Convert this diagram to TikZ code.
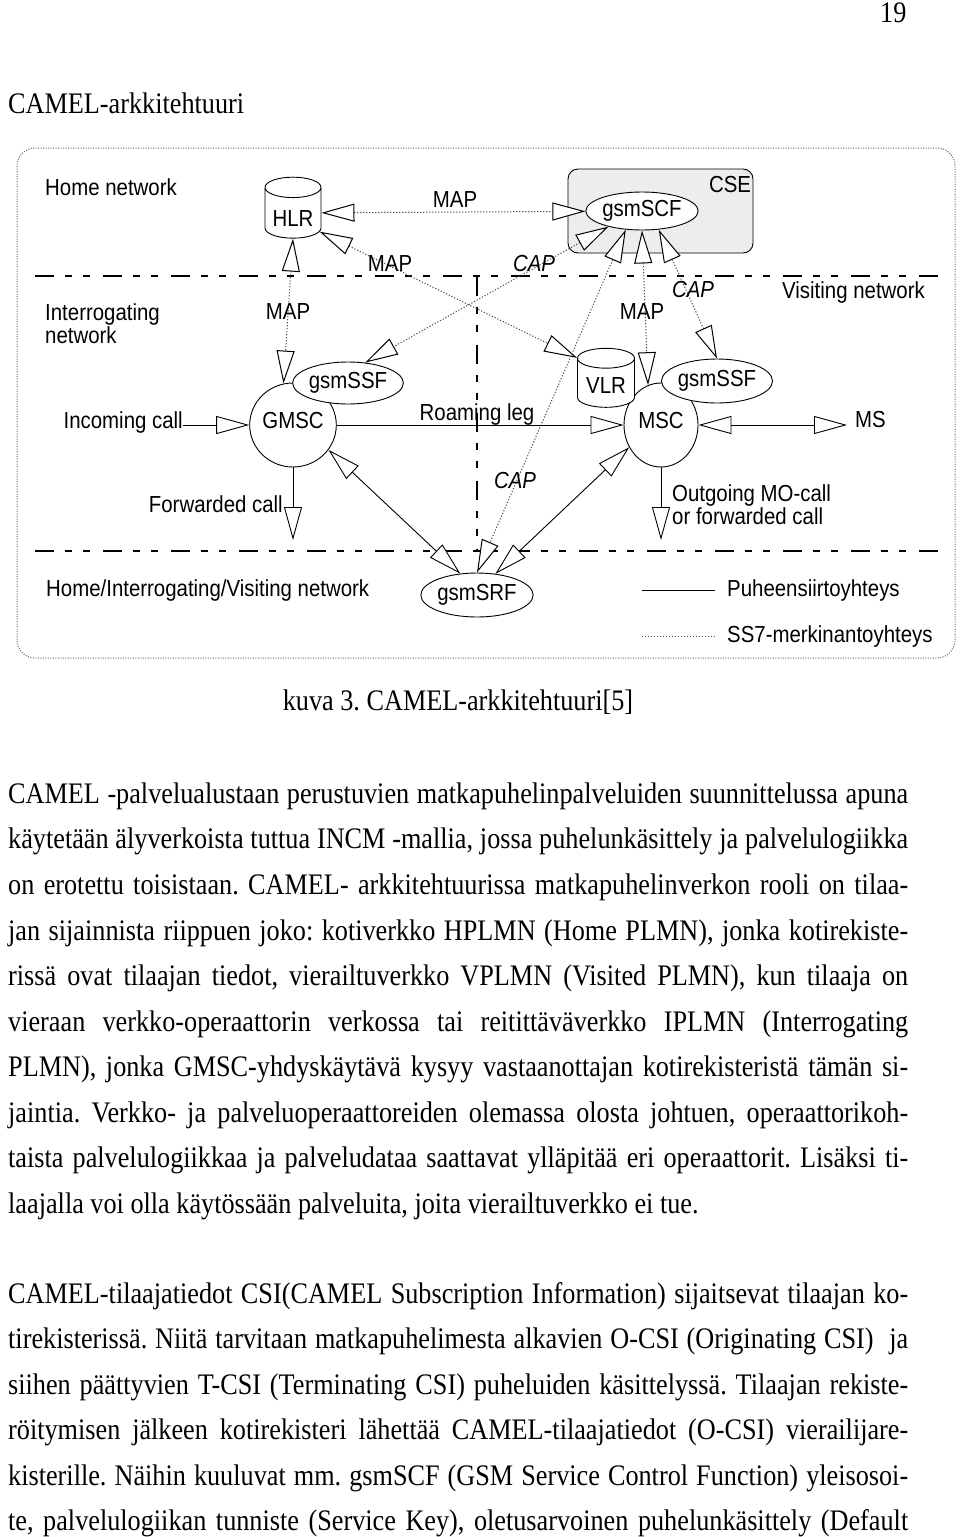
\documentclass[tikz,border=0pt]{standalone}
\usepackage{fontspec}
\setmainfont[FakeStretch=0.88]{Liberation Serif}
\newfontfamily\diagfont[FakeStretch=0.88]{Liberation Sans}
\usepackage{tikz}
\usetikzlibrary{arrows.meta,shapes.geometric,positioning}
\frenchspacing

\tikzset{
  lbl/.style={font=\diagfont\fontsize{23.2}{23}\selectfont, inner sep=0pt},
  capl/.style={font=\diagfont\itshape\fontsize{23.2}{23}\selectfont, inner sep=0pt},
  elem/.style={ellipse, draw, fill=white, line width=0.9pt, inner sep=0pt,
    font=\diagfont\fontsize{23.2}{23}\selectfont},
  reg/.style={cylinder, shape border rotate=90, aspect=0.5, draw, fill=white,
    line width=0.9pt, inner sep=0pt, font=\diagfont\fontsize{23.2}{23}\selectfont},
  csebox/.style={draw, fill=black!7, rounded corners=10pt, line width=0.9pt,
    minimum width=185pt, minimum height=84pt},
  frame/.style={black!60, line width=1pt, dash pattern=on 1pt off 1.5pt, rounded corners=18pt},
  divider/.style={line width=1.1pt, dash pattern=on 19pt off 11pt on 7pt off 11pt on 7pt off 13pt},
  voice/.style={line width=0.9pt},
  ss7/.style={black!70, line width=1pt, dash pattern=on 1.2pt off 1.8pt},
  bodyline/.style={anchor=base west, inner sep=0pt, font=\fontsize{29.8}{34}\selectfont},
  >={Triangle[length=33pt, width=18pt, color=black, fill=white]}
}

\begin{document}
\begin{tikzpicture}[x=1pt, y=-1pt]
  \useasboundingbox (0,0) rectangle (960,1537);

  % page head
  \node[bodyline] (pagenum) at (880,22) {19};
  \node[bodyline] (title) at (8,113) {CAMEL-arkkitehtuuri};

  % figure frame and network borders
  \draw[frame] (17,148) rectangle (955,658);
  \node[csebox] (cse) at (660.5,211) {};
  \node[lbl] (cselbl) at (730,185) {CSE};
  \draw[divider] (35,276) -- (938,276);
  \draw[divider] (35,551) -- (938,551);
  \draw[divider] (477,277) -- (477,551);
  \node[lbl, anchor=west] (home) at (45,187) {Home network};
  \node[lbl, anchor=west, align=left] (interr) at (45,324) {Interrogating\\network};
  \node[lbl, anchor=west] (visit) at (782,292) {Visiting network};
  \node[lbl, anchor=west] (hiv) at (46,590) {Home/Interrogating/Visiting network};

  % network elements
  \node[reg, minimum width=56pt, minimum height=61pt, text height=26pt] (hlr) at (293,213) {HLR};
  \node[elem, minimum width=112pt, minimum height=38pt] (gsmscf) at (642,211) {gsmSCF};
  \node[elem, minimum width=74pt, minimum height=84pt, text depth=10pt] (gmsc) at (293,425) {GMSC};
  \node[elem, minimum width=110pt, minimum height=42pt] (ssfl) at (348,383) {gsmSSF};
  \node[elem, minimum width=74pt, minimum height=84pt, text depth=10pt] (msc) at (661,425) {MSC};
  \node[reg, minimum width=57pt, minimum height=59pt, text height=20pt] (vlr) at (606,383) {VLR};
  \node[elem, minimum width=111pt, minimum height=44pt] (ssfr) at (717,381) {gsmSSF};
  \node[elem, minimum width=110pt, minimum height=44pt] (srf) at (477,595) {gsmSRF};

  % signalling (MAP / CAP)
  \draw[ss7, <->] (hlr) -- (gsmscf);
  \node[lbl] (map1) at (455,200) {MAP};
  \draw[ss7, <->] (hlr.-35) -- (vlr.139);
  \node[lbl] (map2) at (390,264) {MAP};
  \draw[ss7, <->] (hlr.south) -- (gmsc.103);
  \node[lbl] (map3) at (288,312) {MAP};
  \draw[ss7, <->] (gsmscf.205) -- (ssfl.50);
  \node[capl] (cap1) at (534,264) {CAP};
  \draw[ss7, <->] (gsmscf.229) -- (srf.north);
  \node[capl] (cap2) at (515,481) {CAP};
  \draw[ss7, <->] (gsmscf.south) -- (msc.108);
  \node[lbl] (map4) at (642,312) {MAP};
  \draw[ss7, <->] (gsmscf.-48) -- (ssfr.north);
  \node[capl] (cap3) at (693,290) {CAP};

  % speech connections
  \node[lbl, anchor=east] (incoming) at (183,422) {Incoming call};
  \draw[voice, ->] (incoming.east |- gmsc.west) -- (gmsc.west);
  \coordinate (fwdend) at (293,540);
  \draw[voice, ->] (gmsc.south) -- (fwdend);
  \node[lbl, anchor=east] (fwd) at (283,504) {Forwarded call};
  \draw[voice, ->] (gmsc) -- (msc);
  \node[lbl] (roam) at (477,414) {Roaming leg};
  \node[lbl, anchor=west] (ms) at (855,420) {MS};
  \draw[voice, <->] (msc.east) -- ([xshift=-8pt]msc.east -| ms.west);
  \coordinate (outend) at (661,540);
  \draw[voice, ->] (msc.south) -- (outend);
  \node[lbl, anchor=west, align=left] (outgoing) at (672,505) {Outgoing MO-call\\or forwarded call};
  \draw[voice, <->] (gmsc.-35) -- (srf.128);
  \draw[voice, <->] (msc.215) -- (srf.49);

  % legend
  \node[lbl, anchor=west] (legvoice) at (727,590) {Puheensiirtoyhteys};
  \node[lbl, anchor=west] (legss7) at (727,636) {SS7-merkinantoyhteys};
  \draw[voice] ([xshift=-85pt]legvoice.west) -- ([xshift=-12pt]legvoice.west);
  \draw[ss7] ([xshift=-85pt]legss7.west) -- ([xshift=-12pt]legss7.west);

  % caption and body text
  \node[bodyline, anchor=base] (caption) at (458,710) {kuva 3. CAMEL-arkkitehtuuri[5]};
  \node[bodyline] (p1a) at (8,803) {\makebox[900pt][s]{CAMEL -palvelualustaan perustuvien matkapuhelinpalveluiden suunnittelussa apuna}};
  \node[bodyline] (p1b) at (8,848) {\makebox[900pt][s]{käytetään älyverkoista tuttua INCM -mallia, jossa puhelunkäsittely ja palvelulogiikka}};
  \node[bodyline] (p1c) at (8,894) {\makebox[900pt][s]{on erotettu toisistaan. CAMEL- arkkitehtuurissa matkapuhelinverkon rooli on tilaa-}};
  \node[bodyline] (p1d) at (8,940) {\makebox[900pt][s]{jan sijainnista riippuen joko: kotiverkko HPLMN (Home PLMN), jonka kotirekiste-}};
  \node[bodyline] (p1e) at (8,985) {\makebox[900pt][s]{rissä ovat tilaajan tiedot, vierailtuverkko VPLMN (Visited PLMN), kun tilaaja on}};
  \node[bodyline] (p1f) at (8,1031) {\makebox[900pt][s]{vieraan verkko-operaattorin verkossa tai reitittäväverkko IPLMN (Interrogating}};
  \node[bodyline] (p1g) at (8,1076) {\makebox[900pt][s]{PLMN), jonka GMSC-yhdyskäytävä kysyy vastaanottajan kotirekisteristä tämän si-}};
  \node[bodyline] (p1h) at (8,1122) {\makebox[900pt][s]{jaintia. Verkko- ja palveluoperaattoreiden olemassa olosta johtuen, operaattorikoh-}};
  \node[bodyline] (p1i) at (8,1167) {\makebox[900pt][s]{taista palvelulogiikkaa ja palveludataa saattavat ylläpitää eri operaattorit. Lisäksi ti-}};
  \node[bodyline] (p1j) at (8,1213) {laajalla voi olla käytössään palveluita, joita vierailtuverkko ei tue.};
  \node[bodyline] (p2a) at (8,1303) {\makebox[900pt][s]{CAMEL-tilaajatiedot CSI(CAMEL Subscription Information) sijaitsevat tilaajan ko-}};
  \node[bodyline] (p2b) at (8,1348) {\makebox[900pt][s]{tirekisterissä. Niitä tarvitaan matkapuhelimesta alkavien O-CSI (Originating CSI) \ ja}};
  \node[bodyline] (p2c) at (8,1394) {\makebox[900pt][s]{siihen päättyvien T-CSI (Terminating CSI) puheluiden käsittelyssä. Tilaajan rekiste-}};
  \node[bodyline] (p2d) at (8,1439) {\makebox[900pt][s]{röitymisen jälkeen kotirekisteri lähettää CAMEL-tilaajatiedot (O-CSI) vierailijare-}};
  \node[bodyline] (p2e) at (8,1485) {\makebox[900pt][s]{kisterille. Näihin kuuluvat mm. gsmSCF (GSM Service Control Function) yleisosoi-}};
  \node[bodyline] (p2f) at (8,1530) {\makebox[900pt][s]{te, palvelulogiikan tunniste (Service Key), oletusarvoinen puhelunkäsittely (Default}};
\end{tikzpicture}
\end{document}
